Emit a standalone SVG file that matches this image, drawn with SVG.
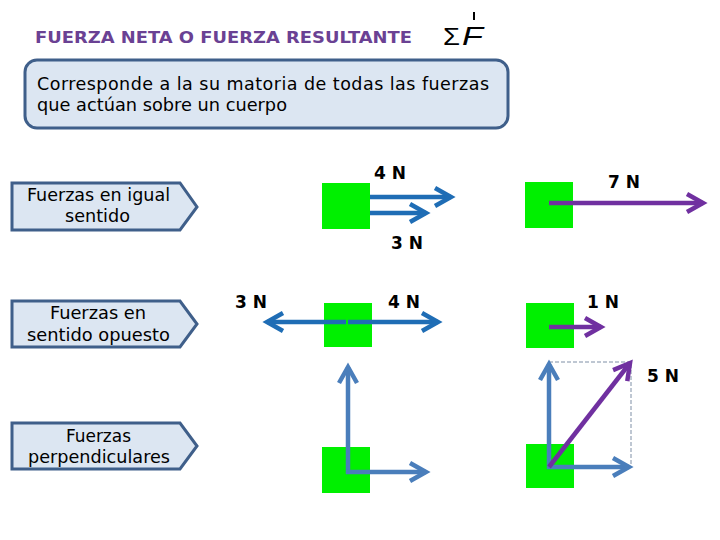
<svg xmlns="http://www.w3.org/2000/svg" width="720" height="540" viewBox="0 0 720 540">
<style>
.title{font-family:"DejaVu Sans",Verdana,sans-serif;font-weight:bold;font-size:15px;fill:#6A4193}
.box{fill:#DCE6F2;stroke:#3F5F8A;stroke-width:3}
.body{font-family:"DejaVu Sans",Verdana,sans-serif;font-size:17.5px;fill:#000}
.lbl{font-family:"DejaVu Sans Condensed","DejaVu Sans",sans-serif;font-size:18.5px;fill:#000}
.f{font-family:"DejaVu Sans",Verdana,sans-serif;font-weight:bold;font-size:17px;fill:#000}
.blk{fill:#00F000}
.ab{stroke:#1F6DB5;stroke-width:4.5;fill:none}
.as{stroke:#4A7EBB;stroke-width:4.5;fill:none}
.ap{stroke:#7030A0;stroke-width:4.5;fill:none}
.dash{stroke:#7F8FA6;stroke-width:1;stroke-dasharray:4,2;fill:none}
</style>
<defs>
<marker id="mb" markerUnits="userSpaceOnUse" orient="auto" refX="0" refY="0" markerWidth="40" markerHeight="40" overflow="visible"><path d="M-16,-9 L0,0 L-16,9" fill="none" stroke="#1F6DB5" stroke-width="4.5"/></marker>
<marker id="ms" markerUnits="userSpaceOnUse" orient="auto" refX="0" refY="0" markerWidth="40" markerHeight="40" overflow="visible"><path d="M-16,-9 L0,0 L-16,9" fill="none" stroke="#4A7EBB" stroke-width="4.5"/></marker>
<marker id="mp" markerUnits="userSpaceOnUse" orient="auto" refX="0" refY="0" markerWidth="40" markerHeight="40" overflow="visible"><path d="M-16,-9 L0,0 L-16,9" fill="none" stroke="#7030A0" stroke-width="4.5"/></marker>
</defs>
<rect width="720" height="540" fill="#fff"/>

<g id="title">
<text class="title" x="35" y="43" textLength="377" lengthAdjust="spacingAndGlyphs">FUERZA NETA O FUERZA RESULTANTE</text>
<text x="443" y="45" font-family="Liberation Sans,Arial,sans-serif" font-size="24" textLength="17" lengthAdjust="spacingAndGlyphs">Σ</text>
<text x="462" y="45" font-family="Liberation Sans,Arial,sans-serif" font-size="26" font-style="italic" textLength="21" lengthAdjust="spacingAndGlyphs">F</text>
<line x1="474" y1="12" x2="474" y2="20" stroke="#000" stroke-width="2"/>
</g>

<g id="definition">
<rect class="box" x="25" y="60" width="483" height="68" rx="12"/>
<text class="body" x="37" y="90" textLength="452" lengthAdjust="spacing">Corresponde a la su matoria de todas las fuerzas</text>
<text class="body" x="37" y="111" textLength="250" lengthAdjust="spacingAndGlyphs">que actúan sobre un cuerpo</text>
</g>

<g id="label-igual">
<path class="box" d="M12,183 H180 L197,207 L180,230 H12 Z"/>
<text class="lbl" x="27" y="201" textLength="143" lengthAdjust="spacingAndGlyphs">Fuerzas en igual</text>
<text class="lbl" x="65" y="222" textLength="65" lengthAdjust="spacingAndGlyphs">sentido</text>
</g>
<g id="label-opuesto">
<path class="box" d="M12,301 H180 L197,324 L180,347 H12 Z"/>
<text class="lbl" x="50" y="319" textLength="96" lengthAdjust="spacingAndGlyphs">Fuerzas en</text>
<text class="lbl" x="27" y="341" textLength="143" lengthAdjust="spacingAndGlyphs">sentido opuesto</text>
</g>
<g id="label-perp">
<path class="box" d="M12,423 H180 L197,446 L180,469 H12 Z"/>
<text class="lbl" x="66" y="442" textLength="65" lengthAdjust="spacingAndGlyphs">Fuerzas</text>
<text class="lbl" x="28" y="463" textLength="142" lengthAdjust="spacingAndGlyphs">perpendiculares</text>
</g>

<g id="bodies">
<rect id="b1" class="blk" x="322" y="183" width="48" height="46"/>
<rect id="b2" class="blk" x="525" y="182" width="48" height="46"/>
<rect id="b3" class="blk" x="324" y="303" width="48" height="44"/>
<rect id="b4" class="blk" x="526" y="303" width="48" height="45"/>
<rect id="b5" class="blk" x="322" y="447" width="48" height="46"/>
<rect id="b6" class="blk" x="526" y="444" width="48" height="44"/>
</g>

<g id="connectors">
<line class="ab" x1="370" y1="197" x2="451" y2="197" marker-end="url(#mb)"/>
<line class="ab" x1="370" y1="213" x2="426" y2="213" marker-end="url(#mb)"/>
<line class="ap" x1="549" y1="203" x2="703" y2="203" marker-end="url(#mp)"/>
<line class="ab" x1="346" y1="322" x2="267" y2="322" marker-end="url(#mb)"/>
<line class="ab" x1="348" y1="322" x2="438" y2="322" marker-end="url(#mb)"/>
<line class="ap" x1="549" y1="327" x2="601" y2="327" marker-end="url(#mp)"/>
<line class="as" x1="348" y1="474" x2="348" y2="367" marker-end="url(#ms)"/>
<line class="as" x1="346" y1="472" x2="426" y2="472" marker-end="url(#ms)"/>
<path class="dash" d="M549,362 H631 V467"/>
<line class="as" x1="549" y1="469" x2="549" y2="364" marker-end="url(#ms)"/>
<line class="as" x1="547" y1="467" x2="629" y2="467" marker-end="url(#ms)"/>
<line class="ap" x1="549" y1="467" x2="630" y2="363" marker-end="url(#mp)"/>
</g>

<g id="force-labels">
<text class="f" x="374" y="179">4 N</text>
<text class="f" x="391" y="249">3 N</text>
<text class="f" x="608" y="188">7 N</text>
<text class="f" x="235" y="308">3 N</text>
<text class="f" x="388" y="308">4 N</text>
<text class="f" x="587" y="308">1 N</text>
<text class="f" x="647" y="382">5 N</text>
</g>
</svg>
